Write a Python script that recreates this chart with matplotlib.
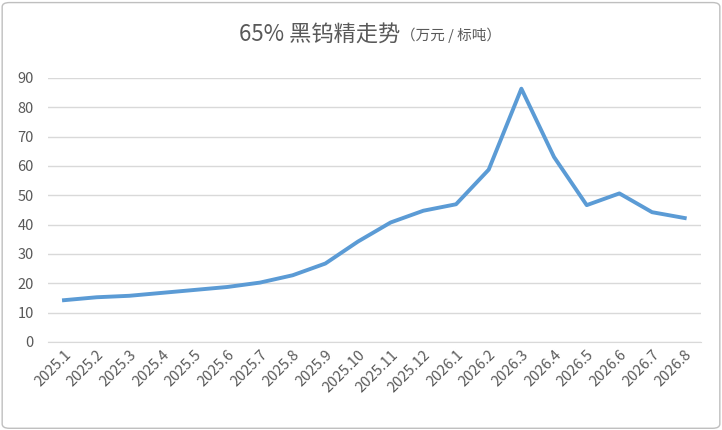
import matplotlib
matplotlib.use("Agg")
import matplotlib.pyplot as plt
from matplotlib.patches import FancyBboxPatch

plt.rcParams['font.family'] = ['Noto Sans CJK SC', 'DejaVu Sans']

months = ["2025.1","2025.2","2025.3","2025.4","2025.5","2025.6","2025.7","2025.8","2025.9","2025.10",
          "2025.11","2025.12","2026.1","2026.2","2026.3","2026.4","2026.5","2026.6","2026.7","2026.8"]
prices = [14.2,15.2,15.7,16.7,17.7,18.7,20.2,22.7,26.7,34.2,40.7,44.7,46.9,58.7,86.3,63.0,46.6,50.6,44.2,42.2]
yticks = [0,10,20,30,40,50,60,70,80,90]

fig = plt.figure(figsize=(7.22,4.30), dpi=100)
fig.patches.append(FancyBboxPatch((0.003,0.004),0.994,0.99,boxstyle="round,pad=0,rounding_size=0.01",
                                  transform=fig.transFigure, fill=False, ec="#BFBFBF", lw=1))
ax = fig.add_axes([0.066,0.205,0.905,0.614])
x = list(range(len(months)))
ax.plot(x, prices, color="#5B9BD5", lw=2.8)
ax.set_xlim(-0.5, len(months)-0.5)
ax.set_ylim(0, 90)
ax.set_yticks(yticks)
ax.set_xticks(x)
ax.set_xticklabels(months, rotation=45, ha='right', rotation_mode='anchor', fontsize=10.5, color="#595959")
ax.tick_params(axis='y', labelsize=10.5, colors="#595959", length=0, pad=10)
ax.tick_params(axis='x', length=0, pad=4)
ax.grid(axis='y', color="#D9D9D9", lw=1)
ax.set_axisbelow(True)
for s in ['top','right','left']:
    ax.spines[s].set_visible(False)
ax.spines['bottom'].set_color("#D9D9D9")
fig.text(0.555, 0.918, "65% 黑钨精走势", ha='right', va='center', fontsize=16, color="#595959")
fig.text(0.555, 0.918, "（万元 / 标吨）", ha='left', va='center', fontsize=10.5, color="#595959")
fig.savefig("out.png", dpi=100)
